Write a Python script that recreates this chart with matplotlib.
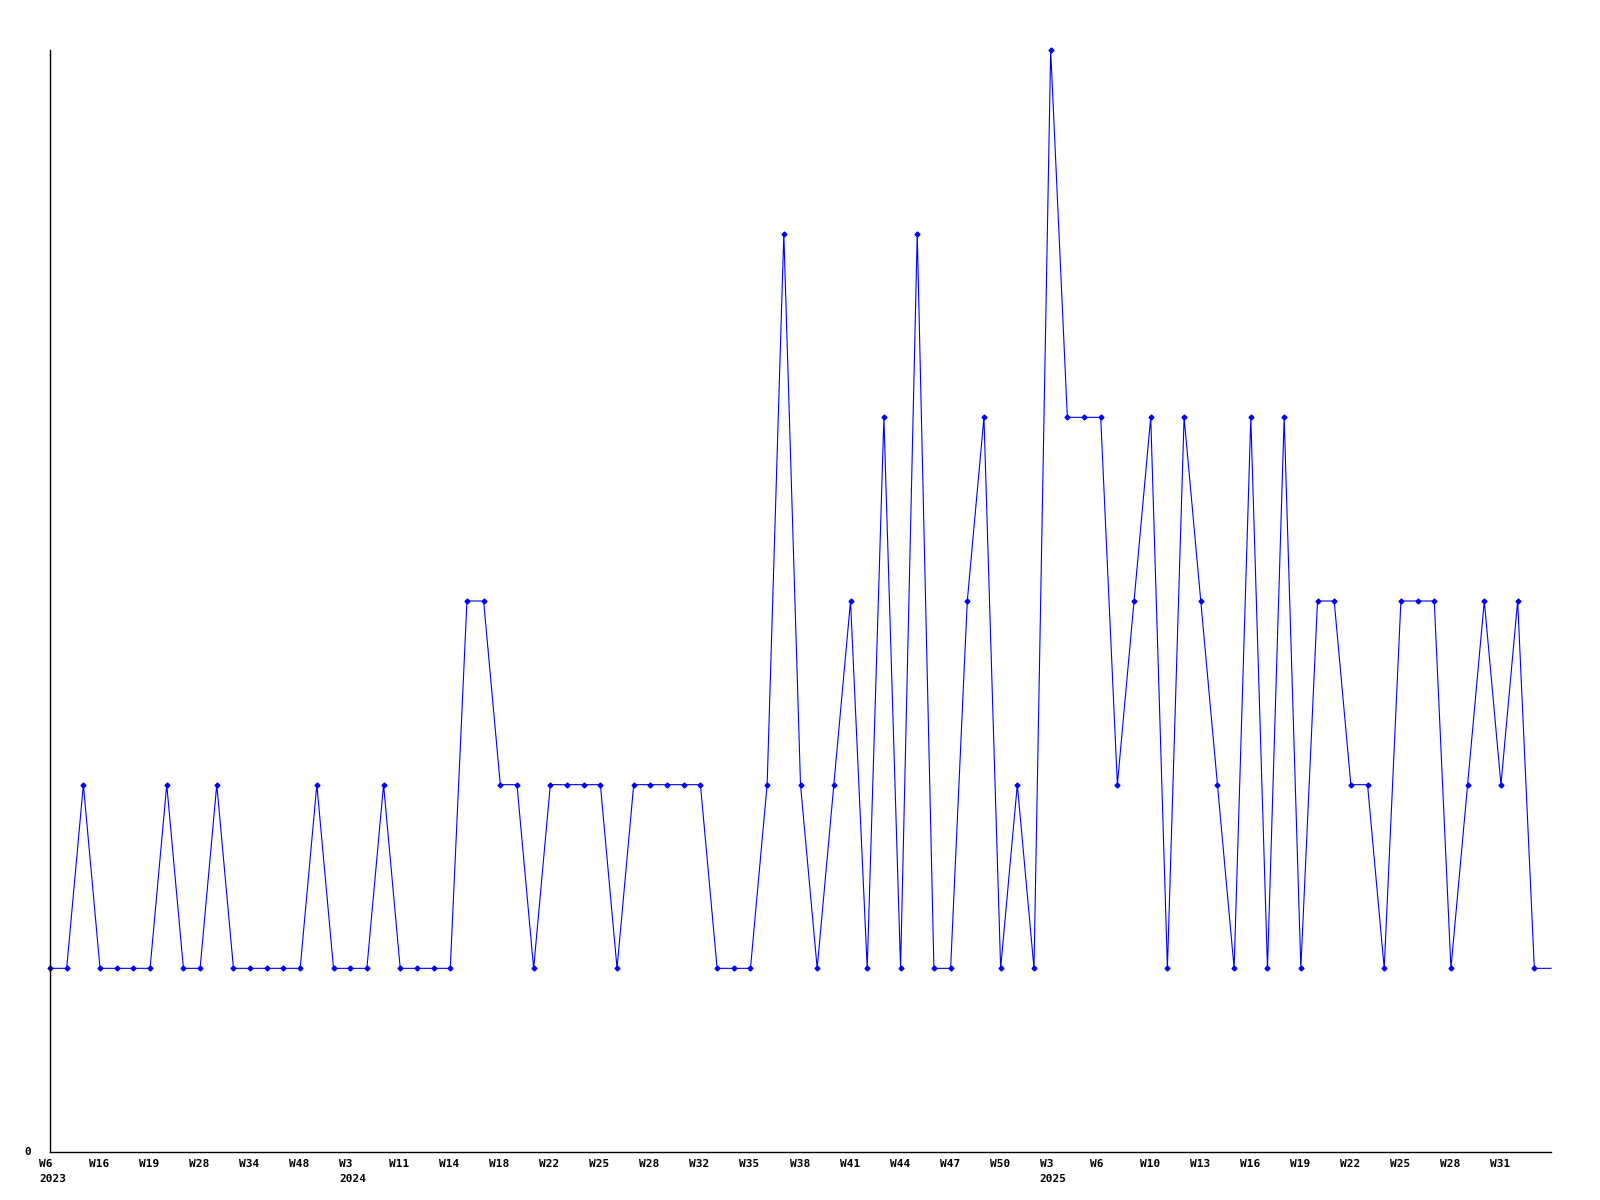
import matplotlib
matplotlib.use("Agg")
import matplotlib.pyplot as plt
import matplotlib.transforms as mtransforms
import numpy as np

# weekly counts, one per plotted week (last point is the open week, no marker)
values = [
    1, 1, 2, 1, 1, 1, 1, 2, 1, 1,
    2, 1, 1, 1, 1, 1, 2, 1, 1, 1,
    2, 1, 1, 1, 1, 3, 3, 2, 2, 1,
    2, 2, 2, 2, 1, 2, 2, 2, 2, 2,
    1, 1, 1, 2, 5, 2, 1, 2, 3, 1,
    4, 1, 5, 1, 1, 3, 4, 1, 2, 1,
    6, 4, 4, 4, 2, 3, 4, 1, 4, 3,
    2, 1, 4, 1, 4, 1, 3, 3, 2, 2,
    1, 3, 3, 3, 1, 2, 3, 2, 3, 1,
    1,
]

# labels shown on every third point
week_labels = [
    "W6", "W16", "W19", "W28", "W34", "W48", "W3", "W11", "W14", "W18",
    "W22", "W25", "W28", "W32", "W35", "W38", "W41", "W44", "W47", "W50",
    "W3", "W6", "W10", "W13", "W16", "W19", "W22", "W25", "W28", "W31",
]
year_labels = {0: "2023", 6: "2024", 20: "2025"}
label_step = 3

FONT = dict(family="DejaVu Sans Mono", fontweight="bold", fontsize=8)

fig = plt.figure(figsize=(16, 12), dpi=100)
W, H = 1600, 1200
left, right, bottom, top = 50, 1551, 1152, 50
ax = fig.add_axes([left / W, (H - bottom) / H, (right - left) / W, (bottom - top) / H])

x = np.arange(len(values))
ax.plot(x, values, color="#0000ff", lw=0.8, clip_on=False)
ax.plot(x[:-1], values[:-1], ls="none", marker="D", ms=2.5, color="#0000ff",
        clip_on=False)

ax.set_xlim(0, len(values) - 1)
ax.set_ylim(0, 6)

for side in ("top", "right"):
    ax.spines[side].set_visible(False)
for side in ("left", "bottom"):
    ax.spines[side].set_color("black")
    ax.spines[side].set_linewidth(1)
ax.set_xticks([])
ax.set_yticks([])


def offset(dx, dy):
    return mtransforms.ScaledTranslation(dx / 100, dy / 100, fig.dpi_scale_trans)


# x labels, left-aligned a little before their point
trans = ax.get_xaxis_transform()
for i, lab in enumerate(week_labels):
    xi = i * label_step
    ax.text(xi, 0, lab, transform=trans + offset(-11, -12),
            ha="left", va="center", **FONT)
    if i in year_labels:
        ax.text(xi, 0, year_labels[i], transform=trans + offset(-11, -27),
                ha="left", va="center", **FONT)

# single y label at the baseline
ax.text(0, 0, "0", transform=ax.transData + offset(-26, 0),
        ha="left", va="center", **FONT)

fig.savefig("out.png", dpi=100)
